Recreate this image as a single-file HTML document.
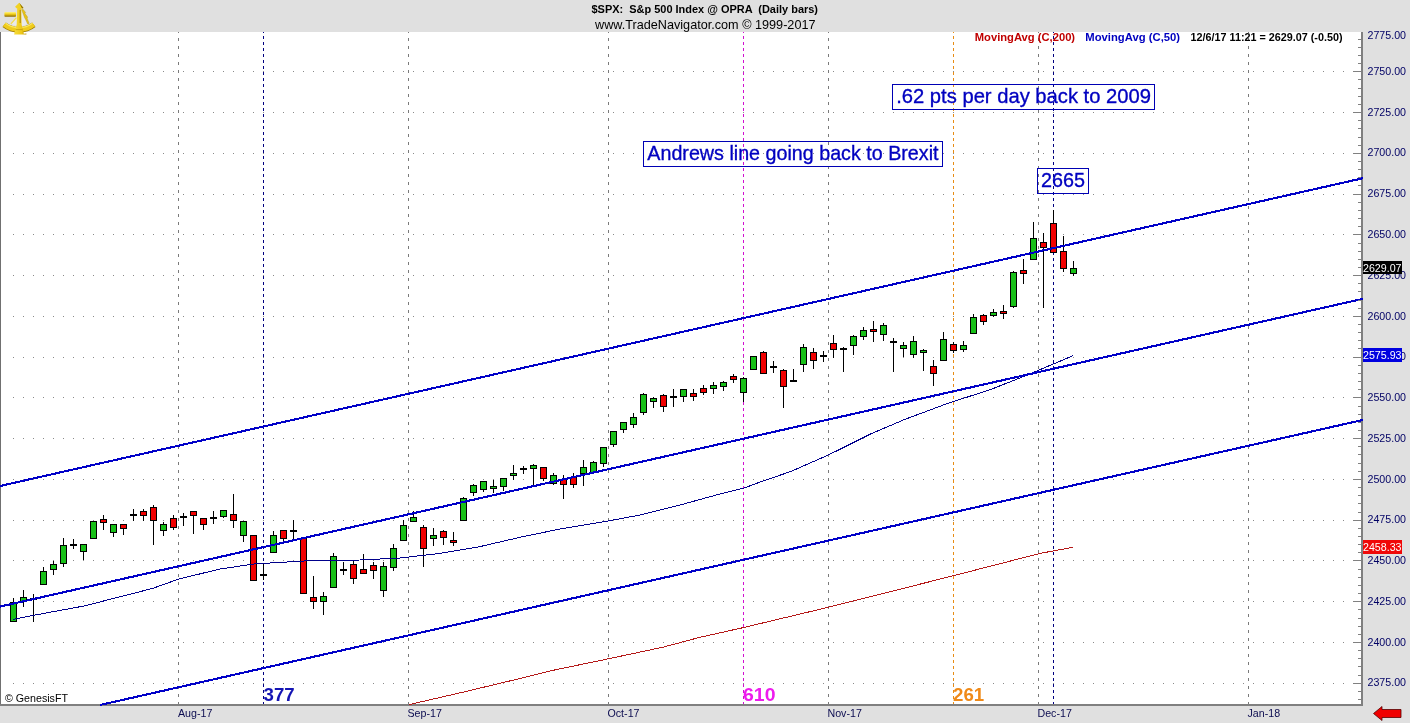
<!DOCTYPE html>
<html><head><meta charset="utf-8"><title>$SPX: S&amp;p 500 Index @ OPRA (Daily bars)</title>
<style>
html,body{margin:0;padding:0;background:#e0e0e0;overflow:hidden}
body{width:1410px;height:723px;font-family:"Liberation Sans", sans-serif}
svg{display:block}
</style></head><body>
<svg width="1410" height="723" viewBox="0 0 1410 723" font-family='"Liberation Sans", sans-serif'>
<rect width="1410" height="723" fill="#e0e0e0"/>
<rect x="1" y="32" width="1360" height="672" fill="#fff"/>
<rect x="0" y="32" width="1" height="674" fill="#707070"/>
<rect x="0" y="704" width="1363" height="2" fill="#808080" shape-rendering="crispEdges"/>
<rect x="1361" y="32" width="2" height="674" fill="#808080" shape-rendering="crispEdges"/>
<g shape-rendering="crispEdges">
<line x1="13" x2="1344" y1="683.5" y2="683.5" stroke="#8a8a8a" stroke-width="1" stroke-dasharray="1 9"/>
<line x1="13" x2="1344" y1="642.5" y2="642.5" stroke="#8a8a8a" stroke-width="1" stroke-dasharray="1 9"/>
<line x1="13" x2="1344" y1="601.5" y2="601.5" stroke="#8a8a8a" stroke-width="1" stroke-dasharray="1 9"/>
<line x1="13" x2="1344" y1="560.5" y2="560.5" stroke="#8a8a8a" stroke-width="1" stroke-dasharray="1 9"/>
<line x1="13" x2="1344" y1="520.5" y2="520.5" stroke="#8a8a8a" stroke-width="1" stroke-dasharray="1 9"/>
<line x1="13" x2="1344" y1="479.5" y2="479.5" stroke="#8a8a8a" stroke-width="1" stroke-dasharray="1 9"/>
<line x1="13" x2="1344" y1="438.5" y2="438.5" stroke="#8a8a8a" stroke-width="1" stroke-dasharray="1 9"/>
<line x1="13" x2="1344" y1="397.5" y2="397.5" stroke="#8a8a8a" stroke-width="1" stroke-dasharray="1 9"/>
<line x1="13" x2="1344" y1="357.5" y2="357.5" stroke="#8a8a8a" stroke-width="1" stroke-dasharray="1 9"/>
<line x1="13" x2="1344" y1="316.5" y2="316.5" stroke="#8a8a8a" stroke-width="1" stroke-dasharray="1 9"/>
<line x1="13" x2="1344" y1="275.5" y2="275.5" stroke="#8a8a8a" stroke-width="1" stroke-dasharray="1 9"/>
<line x1="13" x2="1344" y1="234.5" y2="234.5" stroke="#8a8a8a" stroke-width="1" stroke-dasharray="1 9"/>
<line x1="13" x2="1344" y1="194.5" y2="194.5" stroke="#8a8a8a" stroke-width="1" stroke-dasharray="1 9"/>
<line x1="13" x2="1344" y1="153.5" y2="153.5" stroke="#8a8a8a" stroke-width="1" stroke-dasharray="1 9"/>
<line x1="13" x2="1344" y1="112.5" y2="112.5" stroke="#8a8a8a" stroke-width="1" stroke-dasharray="1 9"/>
<line x1="13" x2="1344" y1="71.5" y2="71.5" stroke="#8a8a8a" stroke-width="1" stroke-dasharray="1 9"/>
<line x1="178.5" x2="178.5" y1="32" y2="704" stroke="#7a7a7a" stroke-width="1" stroke-dasharray="3 5" stroke-dashoffset="2"/>
<line x1="408.5" x2="408.5" y1="32" y2="704" stroke="#7a7a7a" stroke-width="1" stroke-dasharray="3 5" stroke-dashoffset="2"/>
<line x1="608.5" x2="608.5" y1="32" y2="704" stroke="#7a7a7a" stroke-width="1" stroke-dasharray="3 5" stroke-dashoffset="2"/>
<line x1="828.5" x2="828.5" y1="32" y2="704" stroke="#7a7a7a" stroke-width="1" stroke-dasharray="3 5" stroke-dashoffset="2"/>
<line x1="1038.5" x2="1038.5" y1="32" y2="704" stroke="#7a7a7a" stroke-width="1" stroke-dasharray="3 5" stroke-dashoffset="2"/>
<line x1="1248.5" x2="1248.5" y1="32" y2="704" stroke="#7a7a7a" stroke-width="1" stroke-dasharray="3 5" stroke-dashoffset="2"/>
<line x1="263.5" x2="263.5" y1="32" y2="704" stroke="#000080" stroke-width="1" stroke-dasharray="3 3" stroke-dashoffset="2"/>
<line x1="1053.5" x2="1053.5" y1="32" y2="704" stroke="#000080" stroke-width="1" stroke-dasharray="3 3" stroke-dashoffset="2"/>
<line x1="743.5" x2="743.5" y1="32" y2="704" stroke="#d010d0" stroke-width="1" stroke-dasharray="3 3" stroke-dashoffset="2"/>
<line x1="953.5" x2="953.5" y1="32" y2="704" stroke="#e88c14" stroke-width="1" stroke-dasharray="3 3" stroke-dashoffset="2"/>
</g>
<g shape-rendering="crispEdges">
<rect x="13" y="598" width="1" height="23" fill="#000"/>
<rect x="10" y="602" width="7" height="20" fill="#000"/>
<rect x="11" y="603" width="5" height="18" fill="#18c018"/>
<rect x="23" y="590" width="1" height="17" fill="#000"/>
<rect x="20" y="597" width="7" height="5" fill="#000"/>
<rect x="21" y="598" width="5" height="3" fill="#18c018"/>
<rect x="33" y="594" width="1" height="28" fill="#000"/>
<rect x="30" y="598" width="7" height="2" fill="#000"/>
<rect x="43" y="567" width="1" height="17" fill="#000"/>
<rect x="40" y="571" width="7" height="14" fill="#000"/>
<rect x="41" y="572" width="5" height="12" fill="#18c018"/>
<rect x="53" y="561" width="1" height="14" fill="#000"/>
<rect x="50" y="564" width="7" height="6" fill="#000"/>
<rect x="51" y="565" width="5" height="4" fill="#18c018"/>
<rect x="63" y="538" width="1" height="29" fill="#000"/>
<rect x="60" y="545" width="7" height="19" fill="#000"/>
<rect x="61" y="546" width="5" height="17" fill="#18c018"/>
<rect x="73" y="539" width="1" height="10" fill="#000"/>
<rect x="70" y="544" width="7" height="2" fill="#000"/>
<rect x="83" y="544" width="1" height="16" fill="#000"/>
<rect x="80" y="544" width="7" height="8" fill="#000"/>
<rect x="81" y="545" width="5" height="6" fill="#18c018"/>
<rect x="93" y="521" width="1" height="17" fill="#000"/>
<rect x="90" y="521" width="7" height="18" fill="#000"/>
<rect x="91" y="522" width="5" height="16" fill="#18c018"/>
<rect x="103" y="515" width="1" height="15" fill="#000"/>
<rect x="100" y="519" width="7" height="4" fill="#000"/>
<rect x="101" y="520" width="5" height="2" fill="#f00000"/>
<rect x="113" y="524" width="1" height="13" fill="#000"/>
<rect x="110" y="524" width="7" height="9" fill="#000"/>
<rect x="111" y="525" width="5" height="7" fill="#18c018"/>
<rect x="123" y="524" width="1" height="11" fill="#000"/>
<rect x="120" y="524" width="7" height="5" fill="#000"/>
<rect x="121" y="525" width="5" height="3" fill="#f00000"/>
<rect x="133" y="509" width="1" height="12" fill="#000"/>
<rect x="130" y="514" width="7" height="2" fill="#000"/>
<rect x="143" y="509" width="1" height="12" fill="#000"/>
<rect x="140" y="511" width="7" height="5" fill="#000"/>
<rect x="141" y="512" width="5" height="3" fill="#f00000"/>
<rect x="153" y="505" width="1" height="40" fill="#000"/>
<rect x="150" y="507" width="7" height="14" fill="#000"/>
<rect x="151" y="508" width="5" height="12" fill="#f00000"/>
<rect x="163" y="522" width="1" height="14" fill="#000"/>
<rect x="160" y="524" width="7" height="7" fill="#000"/>
<rect x="161" y="525" width="5" height="5" fill="#18c018"/>
<rect x="173" y="515" width="1" height="15" fill="#000"/>
<rect x="170" y="518" width="7" height="10" fill="#000"/>
<rect x="171" y="519" width="5" height="8" fill="#f00000"/>
<rect x="183" y="513" width="1" height="13" fill="#000"/>
<rect x="180" y="516" width="7" height="2" fill="#000"/>
<rect x="193" y="511" width="1" height="23" fill="#000"/>
<rect x="190" y="511" width="7" height="5" fill="#000"/>
<rect x="191" y="512" width="5" height="3" fill="#f00000"/>
<rect x="203" y="518" width="1" height="12" fill="#000"/>
<rect x="200" y="518" width="7" height="7" fill="#000"/>
<rect x="201" y="519" width="5" height="5" fill="#f00000"/>
<rect x="213" y="511" width="1" height="13" fill="#000"/>
<rect x="210" y="517" width="7" height="2" fill="#000"/>
<rect x="223" y="510" width="1" height="8" fill="#000"/>
<rect x="220" y="510" width="7" height="7" fill="#000"/>
<rect x="221" y="511" width="5" height="5" fill="#18c018"/>
<rect x="233" y="494" width="1" height="34" fill="#000"/>
<rect x="230" y="514" width="7" height="7" fill="#000"/>
<rect x="231" y="515" width="5" height="5" fill="#f00000"/>
<rect x="243" y="521" width="1" height="21" fill="#000"/>
<rect x="240" y="521" width="7" height="15" fill="#000"/>
<rect x="241" y="522" width="5" height="13" fill="#18c018"/>
<rect x="253" y="535" width="1" height="45" fill="#000"/>
<rect x="250" y="535" width="7" height="46" fill="#000"/>
<rect x="251" y="536" width="5" height="44" fill="#f00000"/>
<rect x="263" y="564" width="1" height="16" fill="#000"/>
<rect x="260" y="574" width="7" height="2" fill="#000"/>
<rect x="273" y="531" width="1" height="21" fill="#000"/>
<rect x="270" y="535" width="7" height="18" fill="#000"/>
<rect x="271" y="536" width="5" height="16" fill="#18c018"/>
<rect x="283" y="530" width="1" height="12" fill="#000"/>
<rect x="280" y="530" width="7" height="9" fill="#000"/>
<rect x="281" y="531" width="5" height="7" fill="#f00000"/>
<rect x="293" y="520" width="1" height="19" fill="#000"/>
<rect x="290" y="530" width="7" height="2" fill="#000"/>
<rect x="303" y="537" width="1" height="56" fill="#000"/>
<rect x="300" y="538" width="7" height="56" fill="#000"/>
<rect x="301" y="539" width="5" height="54" fill="#f00000"/>
<rect x="313" y="576" width="1" height="33" fill="#000"/>
<rect x="310" y="597" width="7" height="5" fill="#000"/>
<rect x="311" y="598" width="5" height="3" fill="#f00000"/>
<rect x="323" y="592" width="1" height="23" fill="#000"/>
<rect x="320" y="596" width="7" height="6" fill="#000"/>
<rect x="321" y="597" width="5" height="4" fill="#18c018"/>
<rect x="333" y="553" width="1" height="34" fill="#000"/>
<rect x="330" y="556" width="7" height="32" fill="#000"/>
<rect x="331" y="557" width="5" height="30" fill="#18c018"/>
<rect x="343" y="562" width="1" height="13" fill="#000"/>
<rect x="340" y="569" width="7" height="2" fill="#000"/>
<rect x="353" y="561" width="1" height="23" fill="#000"/>
<rect x="350" y="564" width="7" height="15" fill="#000"/>
<rect x="351" y="565" width="5" height="13" fill="#f00000"/>
<rect x="363" y="554" width="1" height="20" fill="#000"/>
<rect x="360" y="569" width="7" height="5" fill="#000"/>
<rect x="361" y="570" width="5" height="3" fill="#f00000"/>
<rect x="373" y="562" width="1" height="17" fill="#000"/>
<rect x="370" y="565" width="7" height="6" fill="#000"/>
<rect x="371" y="566" width="5" height="4" fill="#f00000"/>
<rect x="383" y="562" width="1" height="35" fill="#000"/>
<rect x="380" y="566" width="7" height="25" fill="#000"/>
<rect x="381" y="567" width="5" height="23" fill="#18c018"/>
<rect x="393" y="544" width="1" height="27" fill="#000"/>
<rect x="390" y="548" width="7" height="20" fill="#000"/>
<rect x="391" y="549" width="5" height="18" fill="#18c018"/>
<rect x="403" y="520" width="1" height="20" fill="#000"/>
<rect x="400" y="525" width="7" height="16" fill="#000"/>
<rect x="401" y="526" width="5" height="14" fill="#18c018"/>
<rect x="413" y="511" width="1" height="10" fill="#000"/>
<rect x="410" y="517" width="7" height="5" fill="#000"/>
<rect x="411" y="518" width="5" height="3" fill="#18c018"/>
<rect x="423" y="525" width="1" height="42" fill="#000"/>
<rect x="420" y="527" width="7" height="22" fill="#000"/>
<rect x="421" y="528" width="5" height="20" fill="#f00000"/>
<rect x="433" y="528" width="1" height="18" fill="#000"/>
<rect x="430" y="535" width="7" height="4" fill="#000"/>
<rect x="431" y="536" width="5" height="2" fill="#18c018"/>
<rect x="443" y="530" width="1" height="15" fill="#000"/>
<rect x="440" y="531" width="7" height="7" fill="#000"/>
<rect x="441" y="532" width="5" height="5" fill="#f00000"/>
<rect x="453" y="532" width="1" height="14" fill="#000"/>
<rect x="450" y="540" width="7" height="3" fill="#000"/>
<rect x="451" y="541" width="5" height="1" fill="#f00000"/>
<rect x="463" y="497" width="1" height="23" fill="#000"/>
<rect x="460" y="498" width="7" height="23" fill="#000"/>
<rect x="461" y="499" width="5" height="21" fill="#18c018"/>
<rect x="473" y="484" width="1" height="12" fill="#000"/>
<rect x="470" y="485" width="7" height="8" fill="#000"/>
<rect x="471" y="486" width="5" height="6" fill="#18c018"/>
<rect x="483" y="481" width="1" height="11" fill="#000"/>
<rect x="480" y="481" width="7" height="9" fill="#000"/>
<rect x="481" y="482" width="5" height="7" fill="#18c018"/>
<rect x="493" y="480" width="1" height="13" fill="#000"/>
<rect x="490" y="486" width="7" height="3" fill="#000"/>
<rect x="491" y="487" width="5" height="1" fill="#18c018"/>
<rect x="503" y="478" width="1" height="13" fill="#000"/>
<rect x="500" y="478" width="7" height="9" fill="#000"/>
<rect x="501" y="479" width="5" height="7" fill="#18c018"/>
<rect x="513" y="465" width="1" height="15" fill="#000"/>
<rect x="510" y="473" width="7" height="3" fill="#000"/>
<rect x="511" y="474" width="5" height="1" fill="#18c018"/>
<rect x="523" y="466" width="1" height="8" fill="#000"/>
<rect x="520" y="468" width="7" height="2" fill="#000"/>
<rect x="533" y="464" width="1" height="21" fill="#000"/>
<rect x="530" y="465" width="7" height="4" fill="#000"/>
<rect x="531" y="466" width="5" height="2" fill="#18c018"/>
<rect x="543" y="467" width="1" height="14" fill="#000"/>
<rect x="540" y="467" width="7" height="12" fill="#000"/>
<rect x="541" y="468" width="5" height="10" fill="#f00000"/>
<rect x="553" y="473" width="1" height="12" fill="#000"/>
<rect x="550" y="475" width="7" height="9" fill="#000"/>
<rect x="551" y="476" width="5" height="7" fill="#18c018"/>
<rect x="563" y="475" width="1" height="24" fill="#000"/>
<rect x="560" y="479" width="7" height="6" fill="#000"/>
<rect x="561" y="480" width="5" height="4" fill="#f00000"/>
<rect x="573" y="473" width="1" height="15" fill="#000"/>
<rect x="570" y="477" width="7" height="8" fill="#000"/>
<rect x="571" y="478" width="5" height="6" fill="#f00000"/>
<rect x="583" y="460" width="1" height="26" fill="#000"/>
<rect x="580" y="467" width="7" height="7" fill="#000"/>
<rect x="581" y="468" width="5" height="5" fill="#18c018"/>
<rect x="593" y="461" width="1" height="13" fill="#000"/>
<rect x="590" y="462" width="7" height="11" fill="#000"/>
<rect x="591" y="463" width="5" height="9" fill="#18c018"/>
<rect x="603" y="447" width="1" height="20" fill="#000"/>
<rect x="600" y="447" width="7" height="17" fill="#000"/>
<rect x="601" y="448" width="5" height="15" fill="#18c018"/>
<rect x="613" y="431" width="1" height="16" fill="#000"/>
<rect x="610" y="431" width="7" height="14" fill="#000"/>
<rect x="611" y="432" width="5" height="12" fill="#18c018"/>
<rect x="623" y="422" width="1" height="11" fill="#000"/>
<rect x="620" y="422" width="7" height="8" fill="#000"/>
<rect x="621" y="423" width="5" height="6" fill="#18c018"/>
<rect x="633" y="413" width="1" height="15" fill="#000"/>
<rect x="630" y="417" width="7" height="8" fill="#000"/>
<rect x="631" y="418" width="5" height="6" fill="#18c018"/>
<rect x="643" y="393" width="1" height="22" fill="#000"/>
<rect x="640" y="394" width="7" height="19" fill="#000"/>
<rect x="641" y="395" width="5" height="17" fill="#18c018"/>
<rect x="653" y="397" width="1" height="11" fill="#000"/>
<rect x="650" y="398" width="7" height="4" fill="#000"/>
<rect x="651" y="399" width="5" height="2" fill="#18c018"/>
<rect x="663" y="394" width="1" height="18" fill="#000"/>
<rect x="660" y="395" width="7" height="12" fill="#000"/>
<rect x="661" y="396" width="5" height="10" fill="#f00000"/>
<rect x="673" y="389" width="1" height="18" fill="#000"/>
<rect x="670" y="396" width="7" height="2" fill="#000"/>
<rect x="683" y="389" width="1" height="13" fill="#000"/>
<rect x="680" y="389" width="7" height="8" fill="#000"/>
<rect x="681" y="390" width="5" height="6" fill="#18c018"/>
<rect x="693" y="389" width="1" height="12" fill="#000"/>
<rect x="690" y="393" width="7" height="4" fill="#000"/>
<rect x="691" y="394" width="5" height="2" fill="#f00000"/>
<rect x="703" y="385" width="1" height="10" fill="#000"/>
<rect x="700" y="388" width="7" height="5" fill="#000"/>
<rect x="701" y="389" width="5" height="3" fill="#f00000"/>
<rect x="713" y="382" width="1" height="12" fill="#000"/>
<rect x="710" y="385" width="7" height="4" fill="#000"/>
<rect x="711" y="386" width="5" height="2" fill="#18c018"/>
<rect x="723" y="381" width="1" height="10" fill="#000"/>
<rect x="720" y="382" width="7" height="5" fill="#000"/>
<rect x="721" y="383" width="5" height="3" fill="#18c018"/>
<rect x="733" y="374" width="1" height="9" fill="#000"/>
<rect x="730" y="376" width="7" height="4" fill="#000"/>
<rect x="731" y="377" width="5" height="2" fill="#f00000"/>
<rect x="743" y="377" width="1" height="25" fill="#000"/>
<rect x="740" y="378" width="7" height="15" fill="#000"/>
<rect x="741" y="379" width="5" height="13" fill="#18c018"/>
<rect x="753" y="356" width="1" height="13" fill="#000"/>
<rect x="750" y="356" width="7" height="14" fill="#000"/>
<rect x="751" y="357" width="5" height="12" fill="#18c018"/>
<rect x="763" y="351" width="1" height="23" fill="#000"/>
<rect x="760" y="352" width="7" height="22" fill="#000"/>
<rect x="761" y="353" width="5" height="20" fill="#f00000"/>
<rect x="773" y="361" width="1" height="12" fill="#000"/>
<rect x="770" y="366" width="7" height="2" fill="#000"/>
<rect x="783" y="369" width="1" height="39" fill="#000"/>
<rect x="780" y="370" width="7" height="17" fill="#000"/>
<rect x="781" y="371" width="5" height="15" fill="#f00000"/>
<rect x="793" y="369" width="1" height="13" fill="#000"/>
<rect x="790" y="380" width="7" height="2" fill="#000"/>
<rect x="803" y="344" width="1" height="28" fill="#000"/>
<rect x="800" y="347" width="7" height="18" fill="#000"/>
<rect x="801" y="348" width="5" height="16" fill="#18c018"/>
<rect x="813" y="348" width="1" height="21" fill="#000"/>
<rect x="810" y="352" width="7" height="9" fill="#000"/>
<rect x="811" y="353" width="5" height="7" fill="#f00000"/>
<rect x="823" y="351" width="1" height="11" fill="#000"/>
<rect x="820" y="355" width="7" height="2" fill="#000"/>
<rect x="833" y="335" width="1" height="23" fill="#000"/>
<rect x="830" y="343" width="7" height="7" fill="#000"/>
<rect x="831" y="344" width="5" height="5" fill="#f00000"/>
<rect x="843" y="347" width="1" height="25" fill="#000"/>
<rect x="840" y="348" width="7" height="2" fill="#000"/>
<rect x="853" y="335" width="1" height="20" fill="#000"/>
<rect x="850" y="336" width="7" height="10" fill="#000"/>
<rect x="851" y="337" width="5" height="8" fill="#18c018"/>
<rect x="863" y="327" width="1" height="13" fill="#000"/>
<rect x="860" y="330" width="7" height="7" fill="#000"/>
<rect x="861" y="331" width="5" height="5" fill="#18c018"/>
<rect x="873" y="321" width="1" height="21" fill="#000"/>
<rect x="870" y="329" width="7" height="3" fill="#000"/>
<rect x="871" y="330" width="5" height="1" fill="#f00000"/>
<rect x="883" y="323" width="1" height="18" fill="#000"/>
<rect x="880" y="325" width="7" height="10" fill="#000"/>
<rect x="881" y="326" width="5" height="8" fill="#18c018"/>
<rect x="893" y="338" width="1" height="34" fill="#000"/>
<rect x="890" y="341" width="7" height="2" fill="#000"/>
<rect x="903" y="342" width="1" height="15" fill="#000"/>
<rect x="900" y="345" width="7" height="4" fill="#000"/>
<rect x="901" y="346" width="5" height="2" fill="#18c018"/>
<rect x="913" y="336" width="1" height="22" fill="#000"/>
<rect x="910" y="341" width="7" height="14" fill="#000"/>
<rect x="911" y="342" width="5" height="12" fill="#18c018"/>
<rect x="923" y="349" width="1" height="22" fill="#000"/>
<rect x="920" y="350" width="7" height="3" fill="#000"/>
<rect x="921" y="351" width="5" height="1" fill="#18c018"/>
<rect x="933" y="360" width="1" height="26" fill="#000"/>
<rect x="930" y="366" width="7" height="8" fill="#000"/>
<rect x="931" y="367" width="5" height="6" fill="#f00000"/>
<rect x="943" y="332" width="1" height="28" fill="#000"/>
<rect x="940" y="339" width="7" height="22" fill="#000"/>
<rect x="941" y="340" width="5" height="20" fill="#18c018"/>
<rect x="953" y="342" width="1" height="11" fill="#000"/>
<rect x="950" y="344" width="7" height="7" fill="#000"/>
<rect x="951" y="345" width="5" height="5" fill="#f00000"/>
<rect x="963" y="341" width="1" height="11" fill="#000"/>
<rect x="960" y="345" width="7" height="5" fill="#000"/>
<rect x="961" y="346" width="5" height="3" fill="#18c018"/>
<rect x="973" y="314" width="1" height="19" fill="#000"/>
<rect x="970" y="317" width="7" height="17" fill="#000"/>
<rect x="971" y="318" width="5" height="15" fill="#18c018"/>
<rect x="983" y="314" width="1" height="11" fill="#000"/>
<rect x="980" y="315" width="7" height="7" fill="#000"/>
<rect x="981" y="316" width="5" height="5" fill="#f00000"/>
<rect x="993" y="309" width="1" height="8" fill="#000"/>
<rect x="990" y="312" width="7" height="4" fill="#000"/>
<rect x="991" y="313" width="5" height="2" fill="#18c018"/>
<rect x="1003" y="305" width="1" height="14" fill="#000"/>
<rect x="1000" y="311" width="7" height="3" fill="#000"/>
<rect x="1001" y="312" width="5" height="1" fill="#f00000"/>
<rect x="1013" y="271" width="1" height="37" fill="#000"/>
<rect x="1010" y="272" width="7" height="35" fill="#000"/>
<rect x="1011" y="273" width="5" height="33" fill="#18c018"/>
<rect x="1023" y="259" width="1" height="25" fill="#000"/>
<rect x="1020" y="270" width="7" height="4" fill="#000"/>
<rect x="1021" y="271" width="5" height="2" fill="#f00000"/>
<rect x="1033" y="222" width="1" height="38" fill="#000"/>
<rect x="1030" y="238" width="7" height="22" fill="#000"/>
<rect x="1031" y="239" width="5" height="20" fill="#18c018"/>
<rect x="1043" y="233" width="1" height="75" fill="#000"/>
<rect x="1040" y="242" width="7" height="6" fill="#000"/>
<rect x="1041" y="243" width="5" height="4" fill="#f00000"/>
<rect x="1053" y="210" width="1" height="43" fill="#000"/>
<rect x="1050" y="223" width="7" height="30" fill="#000"/>
<rect x="1051" y="224" width="5" height="28" fill="#f00000"/>
<rect x="1063" y="236" width="1" height="36" fill="#000"/>
<rect x="1060" y="251" width="7" height="18" fill="#000"/>
<rect x="1061" y="252" width="5" height="16" fill="#f00000"/>
<rect x="1073" y="261" width="1" height="15" fill="#000"/>
<rect x="1070" y="268" width="7" height="6" fill="#000"/>
<rect x="1071" y="269" width="5" height="4" fill="#18c018"/>
</g>
<polyline points="13.3,619.4 33.0,615.4 84.0,606.0 152.7,588.4 179.0,579.0 220.0,569.0 254.0,564.0 304.0,561.0 360.0,560.0 400.0,558.0 440.0,553.4 480.0,546.6 520.0,537.3 560.0,529.0 608.0,521.0 640.0,515.0 680.0,505.0 720.0,494.0 744.0,488.0 762.0,481.4 791.0,471.4 828.4,455.0 870.6,434.0 904.3,419.6 947.7,403.4 991.0,389.4 1027.3,375.0 1073.0,355.7" fill="none" stroke="#00008b" stroke-width="1" shape-rendering="crispEdges"/>
<polyline points="408.6,704.7 464.5,691.8 514.1,679.9 548.8,671.2 608.4,658.8 663.0,647.2 700.3,637.2 742.5,627.8 829.4,607.0 953.5,575.7 1040.4,553.3 1072.7,547.4" fill="none" stroke="#b41818" stroke-width="1" shape-rendering="crispEdges"/>
<g stroke="#0000c8" stroke-width="2.1" fill="none" shape-rendering="crispEdges">
<line x1="0" y1="486" x2="1363" y2="178.2"/>
<line x1="0" y1="606.6" x2="1363" y2="298.8"/>
<line x1="100" y1="705" x2="1363" y2="419.9"/>
</g>
<rect x="892.5" y="84.5" width="262" height="25" fill="none" stroke="#0000b4" stroke-width="1" shape-rendering="crispEdges"/>
<text x="896.2" y="102.9" font-size="21" fill="#0000c0" stroke="#0000c0" stroke-width="0.35" textLength="254.8" lengthAdjust="spacingAndGlyphs">.62 pts per day back to 2009</text>
<rect x="643.5" y="141.5" width="299" height="25" fill="none" stroke="#0000b4" stroke-width="1" shape-rendering="crispEdges"/>
<text x="647.3" y="159.7" font-size="21" fill="#0000c0" stroke="#0000c0" stroke-width="0.35" textLength="291.2" lengthAdjust="spacingAndGlyphs">Andrews line going back to Brexit</text>
<rect x="1037.5" y="168.5" width="51" height="25" fill="none" stroke="#0000b4" stroke-width="1" shape-rendering="crispEdges"/>
<text x="1041.0" y="187.0" font-size="21" fill="#0000c0" stroke="#0000c0" stroke-width="0.35" textLength="44.0" lengthAdjust="spacingAndGlyphs">2665</text>
<g font-size="11" font-weight="bold" lengthAdjust="spacingAndGlyphs">
<text x="974.8" y="41.3" fill="#c00000" textLength="100.3" lengthAdjust="spacingAndGlyphs">MovingAvg (C,200)</text>
<text x="1085.3" y="41.3" fill="#0000c0" textLength="94.8" lengthAdjust="spacingAndGlyphs">MovingAvg (C,50)</text>
<text x="1190.5" y="41.3" fill="#000" textLength="152" lengthAdjust="spacingAndGlyphs">12/6/17 11:21 = 2629.07 (-0.50)</text>
</g>
<g font-size="18.67" font-weight="bold">
<text x="263.5" y="700.5" fill="#1414b4">377</text>
<text x="743" y="700.5" fill="#ee1cee" textLength="32.5" lengthAdjust="spacingAndGlyphs">610</text>
<text x="953" y="700.5" fill="#f08a18">261</text>
</g>
<text x="5" y="701.8" font-size="10.67" fill="#000">© GenesisFT</text>
<g shape-rendering="crispEdges">
<rect x="1358" y="699" width="3" height="1" fill="#808080"/>
<rect x="1358" y="691" width="3" height="1" fill="#808080"/>
<rect x="1353" y="683" width="8" height="1" fill="#808080"/>
<rect x="1358" y="675" width="3" height="1" fill="#808080"/>
<rect x="1358" y="666" width="3" height="1" fill="#808080"/>
<rect x="1358" y="658" width="3" height="1" fill="#808080"/>
<rect x="1358" y="650" width="3" height="1" fill="#808080"/>
<rect x="1353" y="642" width="8" height="1" fill="#808080"/>
<rect x="1358" y="634" width="3" height="1" fill="#808080"/>
<rect x="1358" y="626" width="3" height="1" fill="#808080"/>
<rect x="1358" y="618" width="3" height="1" fill="#808080"/>
<rect x="1358" y="609" width="3" height="1" fill="#808080"/>
<rect x="1353" y="601" width="8" height="1" fill="#808080"/>
<rect x="1358" y="593" width="3" height="1" fill="#808080"/>
<rect x="1358" y="585" width="3" height="1" fill="#808080"/>
<rect x="1358" y="577" width="3" height="1" fill="#808080"/>
<rect x="1358" y="569" width="3" height="1" fill="#808080"/>
<rect x="1353" y="560" width="8" height="1" fill="#808080"/>
<rect x="1358" y="552" width="3" height="1" fill="#808080"/>
<rect x="1358" y="544" width="3" height="1" fill="#808080"/>
<rect x="1358" y="536" width="3" height="1" fill="#808080"/>
<rect x="1358" y="528" width="3" height="1" fill="#808080"/>
<rect x="1353" y="520" width="8" height="1" fill="#808080"/>
<rect x="1358" y="512" width="3" height="1" fill="#808080"/>
<rect x="1358" y="503" width="3" height="1" fill="#808080"/>
<rect x="1358" y="495" width="3" height="1" fill="#808080"/>
<rect x="1358" y="487" width="3" height="1" fill="#808080"/>
<rect x="1353" y="479" width="8" height="1" fill="#808080"/>
<rect x="1358" y="471" width="3" height="1" fill="#808080"/>
<rect x="1358" y="463" width="3" height="1" fill="#808080"/>
<rect x="1358" y="454" width="3" height="1" fill="#808080"/>
<rect x="1358" y="446" width="3" height="1" fill="#808080"/>
<rect x="1353" y="438" width="8" height="1" fill="#808080"/>
<rect x="1358" y="430" width="3" height="1" fill="#808080"/>
<rect x="1358" y="422" width="3" height="1" fill="#808080"/>
<rect x="1358" y="414" width="3" height="1" fill="#808080"/>
<rect x="1358" y="406" width="3" height="1" fill="#808080"/>
<rect x="1353" y="397" width="8" height="1" fill="#808080"/>
<rect x="1358" y="389" width="3" height="1" fill="#808080"/>
<rect x="1358" y="381" width="3" height="1" fill="#808080"/>
<rect x="1358" y="373" width="3" height="1" fill="#808080"/>
<rect x="1358" y="365" width="3" height="1" fill="#808080"/>
<rect x="1353" y="357" width="8" height="1" fill="#808080"/>
<rect x="1358" y="348" width="3" height="1" fill="#808080"/>
<rect x="1358" y="340" width="3" height="1" fill="#808080"/>
<rect x="1358" y="332" width="3" height="1" fill="#808080"/>
<rect x="1358" y="324" width="3" height="1" fill="#808080"/>
<rect x="1353" y="316" width="8" height="1" fill="#808080"/>
<rect x="1358" y="308" width="3" height="1" fill="#808080"/>
<rect x="1358" y="300" width="3" height="1" fill="#808080"/>
<rect x="1358" y="291" width="3" height="1" fill="#808080"/>
<rect x="1358" y="283" width="3" height="1" fill="#808080"/>
<rect x="1353" y="275" width="8" height="1" fill="#808080"/>
<rect x="1358" y="267" width="3" height="1" fill="#808080"/>
<rect x="1358" y="259" width="3" height="1" fill="#808080"/>
<rect x="1358" y="251" width="3" height="1" fill="#808080"/>
<rect x="1358" y="243" width="3" height="1" fill="#808080"/>
<rect x="1353" y="234" width="8" height="1" fill="#808080"/>
<rect x="1358" y="226" width="3" height="1" fill="#808080"/>
<rect x="1358" y="218" width="3" height="1" fill="#808080"/>
<rect x="1358" y="210" width="3" height="1" fill="#808080"/>
<rect x="1358" y="202" width="3" height="1" fill="#808080"/>
<rect x="1353" y="194" width="8" height="1" fill="#808080"/>
<rect x="1358" y="185" width="3" height="1" fill="#808080"/>
<rect x="1358" y="177" width="3" height="1" fill="#808080"/>
<rect x="1358" y="169" width="3" height="1" fill="#808080"/>
<rect x="1358" y="161" width="3" height="1" fill="#808080"/>
<rect x="1353" y="153" width="8" height="1" fill="#808080"/>
<rect x="1358" y="145" width="3" height="1" fill="#808080"/>
<rect x="1358" y="137" width="3" height="1" fill="#808080"/>
<rect x="1358" y="128" width="3" height="1" fill="#808080"/>
<rect x="1358" y="120" width="3" height="1" fill="#808080"/>
<rect x="1353" y="112" width="8" height="1" fill="#808080"/>
<rect x="1358" y="104" width="3" height="1" fill="#808080"/>
<rect x="1358" y="96" width="3" height="1" fill="#808080"/>
<rect x="1358" y="88" width="3" height="1" fill="#808080"/>
<rect x="1358" y="79" width="3" height="1" fill="#808080"/>
<rect x="1353" y="71" width="8" height="1" fill="#808080"/>
<rect x="1358" y="63" width="3" height="1" fill="#808080"/>
<rect x="1358" y="55" width="3" height="1" fill="#808080"/>
<rect x="1358" y="47" width="3" height="1" fill="#808080"/>
<rect x="1358" y="39" width="3" height="1" fill="#808080"/>
</g>
<g font-size="10.67" fill="#000064">
<text x="1367.5" y="686.4">2375.00</text>
<text x="1367.5" y="645.6">2400.00</text>
<text x="1367.5" y="604.8">2425.00</text>
<text x="1367.5" y="564.1">2450.00</text>
<text x="1367.5" y="523.3">2475.00</text>
<text x="1367.5" y="482.5">2500.00</text>
<text x="1367.5" y="441.8">2525.00</text>
<text x="1367.5" y="401.0">2550.00</text>
<text x="1367.5" y="360.2">2575.00</text>
<text x="1367.5" y="319.5">2600.00</text>
<text x="1367.5" y="278.7">2625.00</text>
<text x="1367.5" y="238.0">2650.00</text>
<text x="1367.5" y="197.2">2675.00</text>
<text x="1367.5" y="156.4">2700.00</text>
<text x="1367.5" y="115.7">2725.00</text>
<text x="1367.5" y="74.9">2750.00</text>
<text x="1367.5" y="38.8">2775.00</text>
</g>
<rect x="1363" y="261" width="39" height="13" fill="#000" shape-rendering="crispEdges"/>
<text x="1363" y="271.9" font-size="10.67" fill="#fff">2629.07</text>
<rect x="1363" y="348" width="39" height="14" fill="#0000e0" shape-rendering="crispEdges"/>
<text x="1363" y="358.9" font-size="10.67" fill="#fff">2575.93</text>
<rect x="1363" y="540" width="39" height="14" fill="#f00808" shape-rendering="crispEdges"/>
<text x="1363" y="550.9" font-size="10.67" fill="#fff">2458.33</text>
<g font-size="10.67" fill="#0c0c50">
<text x="178" y="716.7">Aug-17</text>
<text x="407.5" y="716.7">Sep-17</text>
<text x="607.5" y="716.7">Oct-17</text>
<text x="827.5" y="716.7">Nov-17</text>
<text x="1037.5" y="716.7">Dec-17</text>
<text x="1247.5" y="716.7">Jan-18</text>
</g>
<path d="M1373.5 713.5 L1382 706.5 L1382 709.5 L1401 709.5 L1401 717.5 L1382 717.5 L1382 720.5 Z" fill="#f00000" stroke="#500" stroke-width="0.8"/>
<text x="591.5" y="12.7" font-size="11" font-weight="bold" fill="#000" xml:space="preserve" textLength="226.5" lengthAdjust="spacingAndGlyphs">$SPX:  S&amp;p 500 Index @ OPRA  (Daily bars)</text>
<text x="595" y="28.9" font-size="13.6" fill="#000" textLength="220.5" lengthAdjust="spacingAndGlyphs">www.TradeNavigator.com © 1999-2017</text>
<defs><linearGradient id="gold" x1="0" y1="0" x2="0" y2="1"><stop offset="0" stop-color="#fff27c"/><stop offset="0.45" stop-color="#f2cf1a"/><stop offset="1" stop-color="#8a6800"/></linearGradient><linearGradient id="gold2" x1="0" y1="0" x2="1" y2="0"><stop offset="0" stop-color="#f6dc3c"/><stop offset="0.6" stop-color="#eec818"/><stop offset="1" stop-color="#b89000"/></linearGradient></defs>
<g id="sextant">
<path d="M16 17 L10.5 23.5 L19 27 L28.4 23.6 L22 10 Z" fill="#ececec" opacity="0.8"/>
<path d="M4.22 24.8 A24 24 0 0 0 33.78 24.8" fill="none" stroke="#9c7a00" stroke-width="5.6"/>
<path d="M4.22 24.5 A24 24 0 0 0 33.78 24.5" fill="none" stroke="#efcb1c" stroke-width="4.6"/>
<path d="M5.6 23.3 A22.4 22.4 0 0 0 32.4 23.3" fill="none" stroke="#fbe85a" stroke-width="1.2"/>
<path d="M15.9 17.2 L10.4 23.6 L11.4 24.3 L16.9 17.9 Z" fill="#f4dc48"/>
<path d="M21.6 9.6 L23.2 9.4 L25.6 12.4 L25 13.6 L27.6 17 L27.2 18.4 L29.2 23.4 L27.6 24 L25.6 19.6 L24.6 17.8 L23.4 14.6 Z" fill="#e6c21a" stroke="#a88400" stroke-width="0.3"/>
<rect x="4.4" y="12.1" width="11.6" height="4.6" rx="0.8" fill="url(#gold)"/>
<path d="M17.2 7.5 L21.2 7.5 L21.6 24.6 L23.8 33.8 L26.4 33.4 L26.4 34.4 L14.1 34.4 L16.7 24.6 Z" fill="url(#gold2)"/>
<path d="M20.2 10 L20.2 23" stroke="#8a6a00" stroke-width="0.7" fill="none"/>
<path d="M19.2 2.8 L15.1 6.7 L16.4 8.2 L22 8.4 L23.5 8 Z" fill="#f2d222"/>
<path d="M19.2 2.8 L23.5 8 L22 8.4 L20.6 5.6 Z" fill="#8a6a00"/>
<path d="M15.6 29.6 L22.6 29.6" stroke="#b08c00" stroke-width="0.6" fill="none"/>
</g>
</svg>
</body></html>
